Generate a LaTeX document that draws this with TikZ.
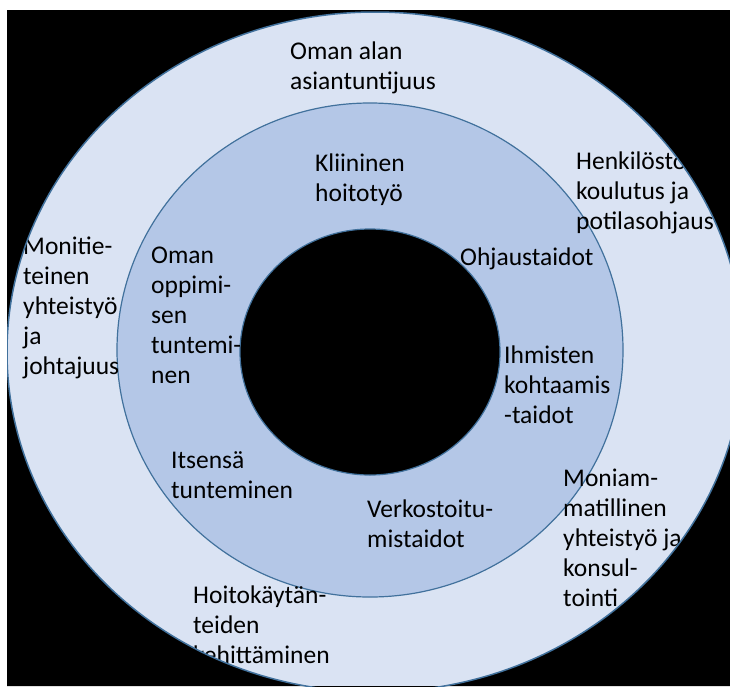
\documentclass[tikz,border=0pt]{standalone}
\usepackage{fontspec}
\setmainfont{Carlito}
\definecolor{ringout}{HTML}{DAE3F3}
\definecolor{ringmid}{HTML}{B4C7E7}
\definecolor{ringline}{HTML}{41719C}

\begin{document}
\begin{tikzpicture}[x=1pt, y=-1pt,
    lbl/.style={anchor=west, align=left, inner sep=0pt, font=\fontsize{25.5}{30}\selectfont},
    outer/.style={x radius=368pt, y radius=340pt}]
    \useasboundingbox (0,0) rectangle (730,686);
    \fill [white] (0,0) rectangle (730,686);
    \fill [black] (7,10) rectangle (730,686);
    \begin{scope}
        \clip (7,10) rectangle (730,686);
        \fill [ringout] (375,352) ellipse [outer];
    \end{scope}
    \draw [ringline, fill=ringmid, line width=1.2pt] (370,350) ellipse [x radius=253pt, y radius=247pt];
    \draw [ringline, fill=black, line width=1.2pt] (370,352) ellipse [x radius=130pt, y radius=123pt];

    \node [lbl] (expert) at (290, 68) {Oman alan\\asiantuntijuus};
    \node [lbl] (clinical) at (315, 180) {Kliininen\\hoitotyö};
    \node [lbl] (staff) at (576, 193) {Henkilöstö\\koulutus ja\\potilasohjaus};
    \node [lbl] (multi) at (23, 308) {Monitie-\\teinen\\yhteistyö\\ja\\johtajuus};
    \node [lbl] (learning) at (151, 315) {Oman\\oppimi-\\sen\\tuntemi-\\nen};
    \node [lbl] (guidance) at (460, 259) {Ohjaustaidot};
    \node [lbl] (encounter) at (504, 385) {Ihmisten\\kohtaamis\\-taidot};
    \node [lbl] (self) at (171, 475) {Itsensä\\tunteminen};
    \node [lbl] (network) at (367, 524) {Verkostoitu-\\mistaidot};
    \node [lbl] (consult) at (563, 538) {Moniam-\\matillinen\\yhteistyö ja\\konsul-\\tointi};
    \node [lbl] (practice) at (193, 625) {Hoitokäytän-\\teiden\\kehittäminen};

    \fill [black, even odd rule] (7,10) rectangle (730,686) (375,352) ellipse [outer];
    \begin{scope}
        \clip (7,10) rectangle (730,686);
        \draw [ringline, line width=1.5pt] (375,352) ellipse [outer];
    \end{scope}
\end{tikzpicture}
\end{document}
